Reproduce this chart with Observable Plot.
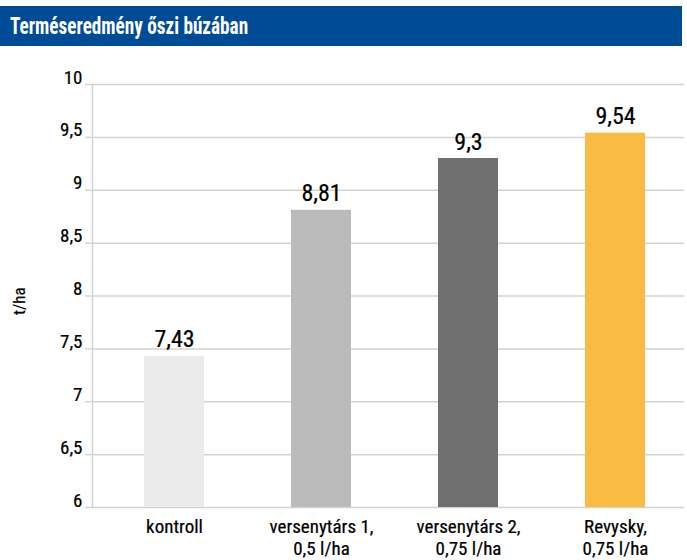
<!DOCTYPE html>
<html><head><meta charset="utf-8">
<script src="https://cdn.jsdelivr.net/npm/d3@7"></script>
<script src="https://cdn.jsdelivr.net/npm/@observablehq/plot@0.6"></script>
<style>
body{margin:0;background:#fff;font-family:"Roboto Condensed",sans-serif;}
#title{margin-top:6px;width:682px;height:40px;background:#004b95;color:#fff;font-weight:bold;font-size:24px;line-height:40px;box-sizing:border-box;padding-left:10px;overflow:hidden;white-space:nowrap;}
#title span{display:inline-block;transform:scaleX(0.8);transform-origin:left center;}
svg{display:block;}
</style></head><body>
<div id="title"><span>Terméseredmény őszi búzában</span></div>
<div id="chart"></div>
<script>
const categories = ["kontroll", "versenytárs 1,\n0,5 l/ha", "versenytárs 2,\n0,75 l/ha", "Revysky,\n0,75 l/ha"];
const values = [7.43, 8.81, 9.3, 9.54];
const colors = ["#ebebeb", "#bababa", "#6f6f6f", "#f9bb43"];
const yTicks = [6, 6.5, 7, 7.5, 8, 8.5, 9, 9.5, 10];
const yLabel = "t/ha";

const data = categories.map((c, i) => ({cat: c, value: values[i], color: colors[i]}));
const fmt = v => String(v).replace(".", ",");
const font = '"Roboto Condensed",sans-serif';
const grid = "#d3d3d3";
const ink = "#000";
const textStyle = {fill: ink, stroke: ink, strokeWidth: 0.22};

const plot = Plot.plot({
  width: 687, height: 514,
  marginTop: 38, marginBottom: 53, marginLeft: 92, marginRight: 3,
  style: {fontFamily: font, background: "#fff", overflow: "visible"},
  x: {domain: categories, range: [100, 689], paddingInner: 0.595, paddingOuter: 0.2975, axis: null},
  y: {domain: [6, 10], axis: null},
  marks: [
    Plot.gridY(yTicks, {stroke: grid, strokeOpacity: 1, strokeWidth: 1.5}),
    Plot.axisY(yTicks, {tickSize: 7, stroke: grid, strokeWidth: 1.5, tickFormat: () => "", label: null}),
    Plot.frame({anchor: "left", stroke: grid, strokeWidth: 1.5}),
    Plot.barY(data, {x: "cat", y1: 6, y2: "value", fill: "color"}),
    Plot.text(yTicks, {y: d => d, text: d => fmt(d), frameAnchor: "left", textAnchor: "end", dx: -10, dy: -7, fontSize: 19, ...textStyle}),
    Plot.text(data, {x: "cat", y: "value", text: d => fmt(d.value), fontSize: 24, ...textStyle, lineAnchor: "bottom", dy: -9}),
    Plot.text(data, {x: "cat", y: 6, text: "cat", fontSize: 19, ...textStyle, lineAnchor: "top", dy: 9, lineHeight: 1.2}),
    Plot.text([yLabel], {frameAnchor: "left", y: 7.82, dx: -73, text: d => d, rotate: -90, fontSize: 17, ...textStyle})
  ]
});
document.getElementById("chart").appendChild(plot);
</script>
</body></html>
